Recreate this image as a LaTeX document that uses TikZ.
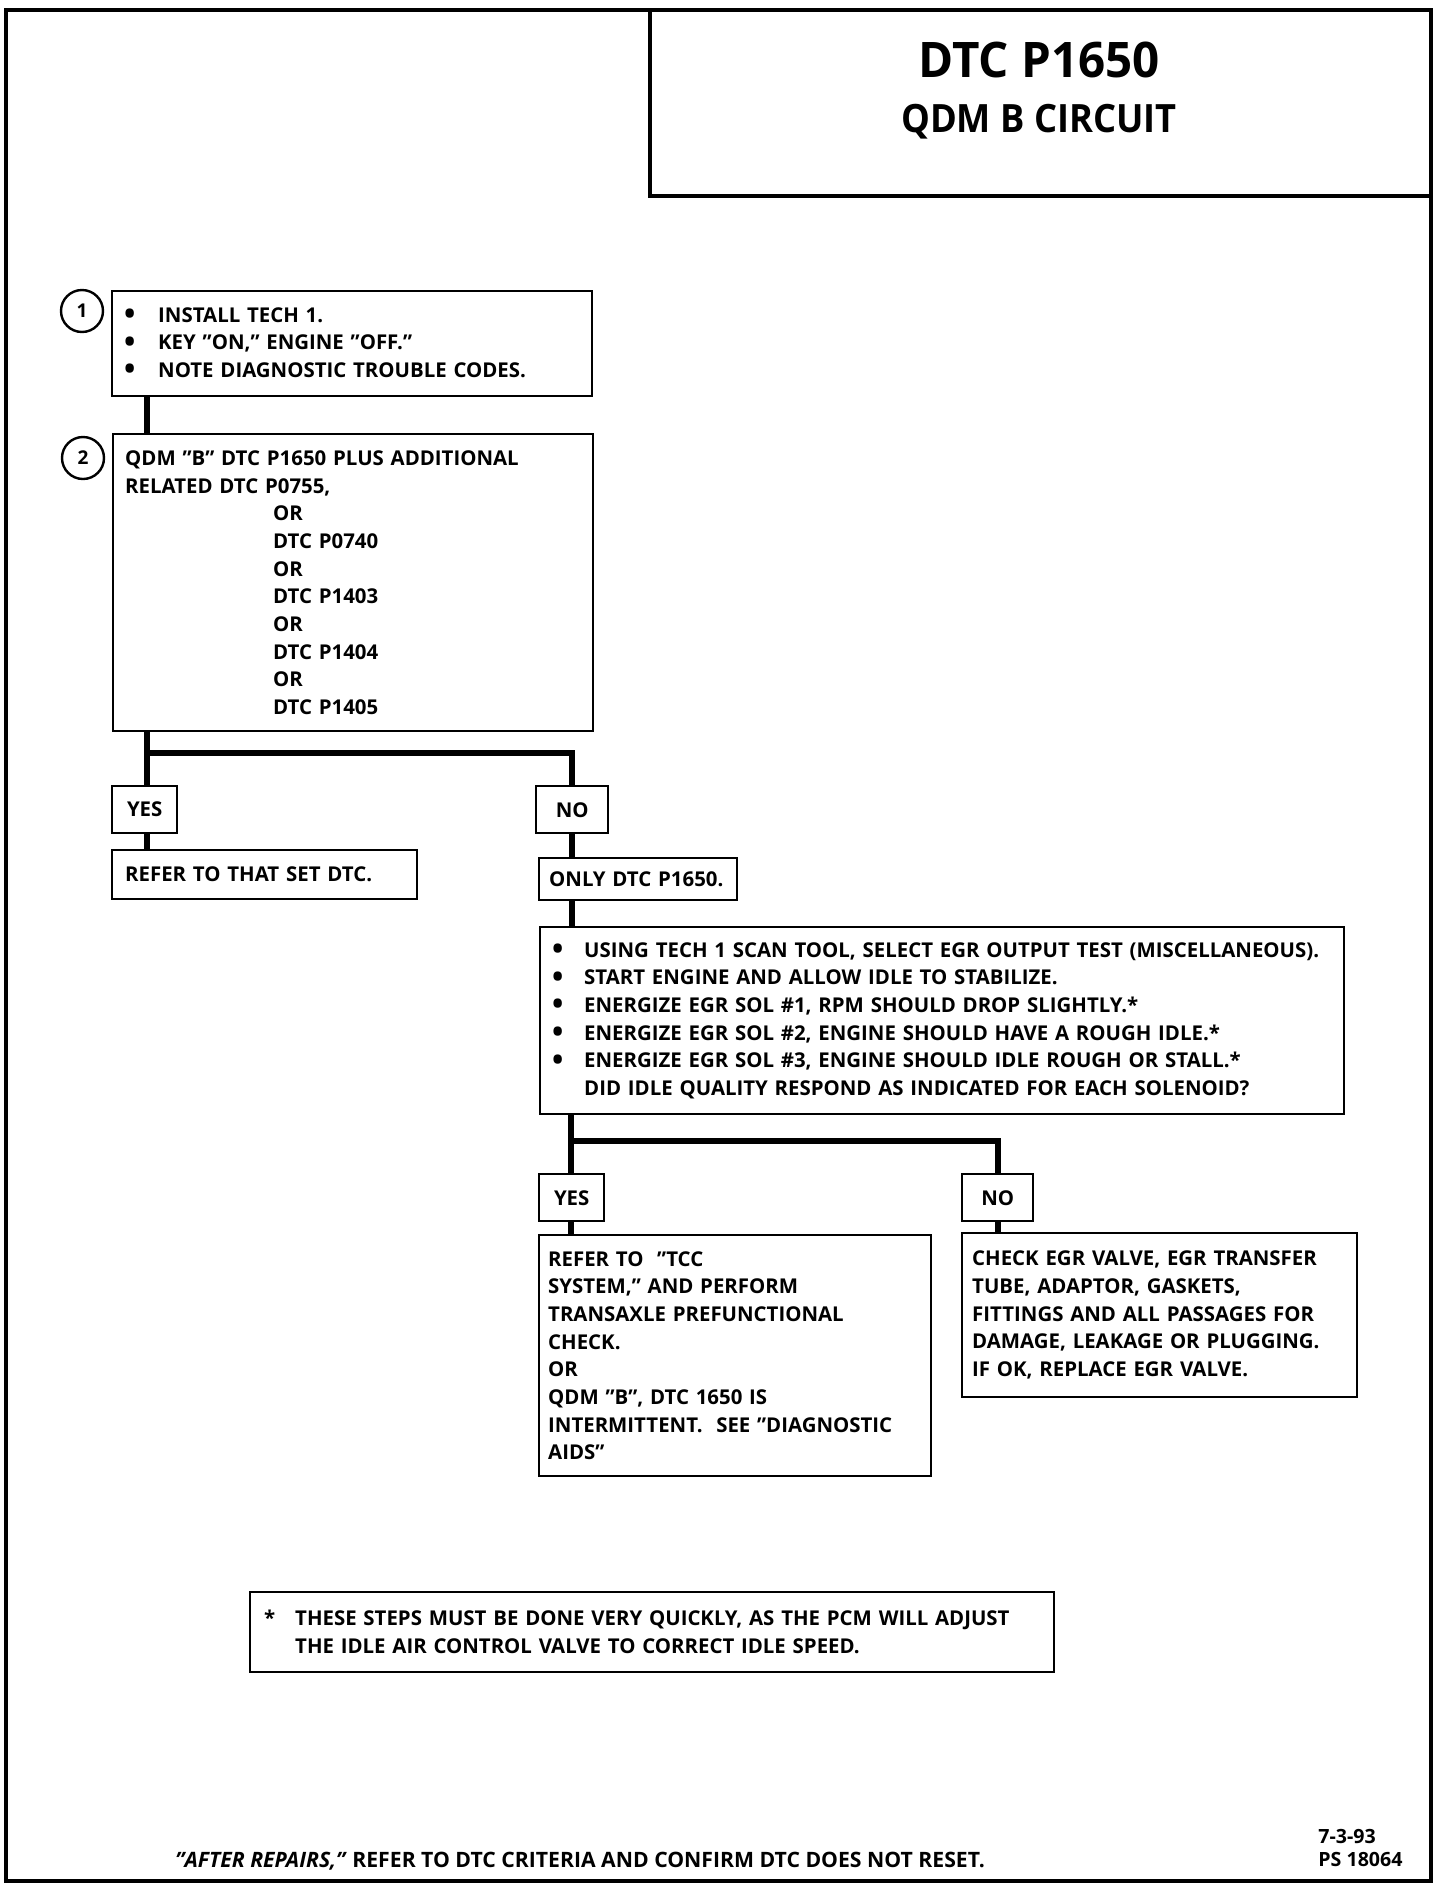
\documentclass[tikz,border=0pt]{standalone}
\usepackage{fontspec}
\setmainfont{Open Sans}
\usetikzlibrary{positioning,calc}
\newcommand{\bul}[1]{\makebox[#1][l]{\hspace*{-2.5pt}\raisebox{-1.2pt}{\fontsize{15pt}{15pt}\selectfont\textbullet}}}
\newcommand{\ind}{\hspace*{74pt}}
\tikzset{
  frame/.style={line width=2pt},
  txt/.style={font=\bfseries\fontsize{10.2pt}{13.85pt}\selectfont},
  box/.style={txt, draw, line width=1.2pt, anchor=north west, align=left, inner ysep=0pt},
  answer/.style={txt, draw, line width=1.2pt, anchor=north west, minimum height=23.5pt, inner sep=0pt},
  stepnum/.style={draw, circle, line width=1.2pt, minimum size=21pt, inner sep=0pt, font=\bfseries\fontsize{9.5pt}{10pt}\selectfont},
  conn/.style={line width=3pt},
  title/.style={font=\bfseries\fontsize{24.5pt}{28pt}\selectfont},
  subtitle/.style={font=\bfseries\fontsize{19.5pt}{22pt}\selectfont}
}

\begin{document}
\begin{tikzpicture}[x=0.5pt, y=-0.5pt]
\useasboundingbox (0,0) rectangle (1456,1890);
\draw[frame] (6,10) rectangle (1431,1881);
\draw[frame] (650,10) rectangle (1431,196);
\node[title] (dtc) at (1039,60) {\scalebox{0.97}[1]{DTC P1650}};
\node[subtitle] (qdm) at (1039,122) {\scalebox{0.93}[1]{QDM B CIRCUIT}};

\node[box, text width=223pt, inner xsep=8.5pt, minimum height=52.5pt] (b1) at (111,290)
  {\bul{14.5pt}INSTALL TECH 1.\\ \bul{14.5pt}KEY "ON," ENGINE "OFF."\\ \bul{14.5pt}NOTE DIAGNOSTIC TROUBLE CODES.};
\node[stepnum] (n1) at (82,311) {1};
\node[box, text width=228pt, inner xsep=6pt, minimum height=148.5pt] (b2) at (112,433)
  {QDM "B" DTC P1650 PLUS ADDITIONAL\\ RELATED DTC P0755,\\ \ind OR\\ \ind DTC P0740\\ \ind OR\\ \ind DTC P1403\\
   \ind OR\\ \ind DTC P1404\\ \ind OR\\ \ind DTC P1405};
\node[stepnum] (n2) at (83,458) {2};

\node[answer, minimum width=32.5pt] (yes1) at (111,785) {YES};
\node[answer, minimum width=36pt] (no1) at (535,785) {NO};
\node[box, text width=139.5pt, inner xsep=6.5pt, minimum height=24.5pt] (set) at (111,849) {REFER TO THAT SET DTC.};
\node[box, text width=89pt, inner xsep=5pt, minimum height=21pt] (only) at (538,857) {ONLY DTC P1650.};
\node[box, text width=385pt, inner xsep=8.5pt, minimum height=93.5pt] (b3) at (539,926)
  {\bul{13.5pt}USING TECH 1 SCAN TOOL, SELECT EGR OUTPUT TEST (MISCELLANEOUS).\\
   \bul{13.5pt}START ENGINE AND ALLOW IDLE TO STABILIZE.\\
   \bul{13.5pt}ENERGIZE EGR SOL \#1, RPM SHOULD DROP SLIGHTLY.*\\
   \bul{13.5pt}ENERGIZE EGR SOL \#2, ENGINE SHOULD HAVE A ROUGH IDLE.*\\
   \bul{13.5pt}ENERGIZE EGR SOL \#3, ENGINE SHOULD IDLE ROUGH OR STALL.*\\
   \hspace*{13.5pt}DID IDLE QUALITY RESPOND AS INDICATED FOR EACH SOLENOID?};

\node[answer, minimum width=32.5pt] (yes2) at (538,1173) {YES};
\node[answer, minimum width=35.5pt] (no2) at (961,1173) {NO};
\node[box, text width=187pt, inner xsep=4.5pt, minimum height=120.5pt] (tcc) at (538,1234)
  {REFER TO \ "TCC\\ SYSTEM," AND PERFORM\\ TRANSAXLE PREFUNCTIONAL\\ CHECK.\\ OR\\ QDM "B", DTC 1650 IS\\
   INTERMITTENT. \ SEE "DIAGNOSTIC\\ AIDS"};
\node[box, text width=187.5pt, inner xsep=5pt, minimum height=82pt] (egr) at (961,1232)
  {CHECK EGR VALVE, EGR TRANSFER\\ TUBE, ADAPTOR, GASKETS,\\ FITTINGS AND ALL PASSAGES FOR\\
   DAMAGE, LEAKAGE OR PLUGGING.\\ IF OK, REPLACE EGR VALVE.};

\node[box, text width=388pt, inner xsep=7pt, minimum height=40pt] (note) at (249,1591)
  {\makebox[15.5pt][l]{*}THESE STEPS MUST BE DONE VERY QUICKLY, AS THE PCM WILL ADJUST\\
   \hspace*{15.5pt}THE IDLE AIR CONTROL VALVE TO CORRECT IDLE SPEED.};

\node[anchor=base west, inner sep=0pt, font=\bfseries\fontsize{10.6pt}{13pt}\selectfont] (after) at (175,1867)
  {\textit{"AFTER REPAIRS,"} REFER TO DTC CRITERIA AND CONFIRM DTC DOES NOT RESET.};
\node[anchor=base west, inner sep=0pt, align=left, font=\bfseries\fontsize{9.8pt}{11.5pt}\selectfont] (ref) at (1318,1866)
  {7-3-93\\ PS 18064};

\coordinate (j1) at (147,753);
\coordinate (j2) at (571,1141);
\draw[conn] (b1.south -| j1) -- (b2.north -| j1);
\draw[conn] (b2.south -| j1) -- (yes1.north -| j1);
\draw[conn] (j1) -| (no1.north);
\draw[conn] (yes1.south -| j1) -- (set.north -| j1);
\draw[conn] (no1) -- (only.north -| no1);
\draw[conn] (only.south -| no1) -- (b3.north -| no1);
\draw[conn] (b3.south -| j2) -- (yes2.north -| j2);
\draw[conn] (j2) -| (no2.north);
\draw[conn] (yes2.south -| j2) -- (tcc.north -| j2);
\draw[conn] (no2) -- (egr.north -| no2);
\end{tikzpicture}
\end{document}
